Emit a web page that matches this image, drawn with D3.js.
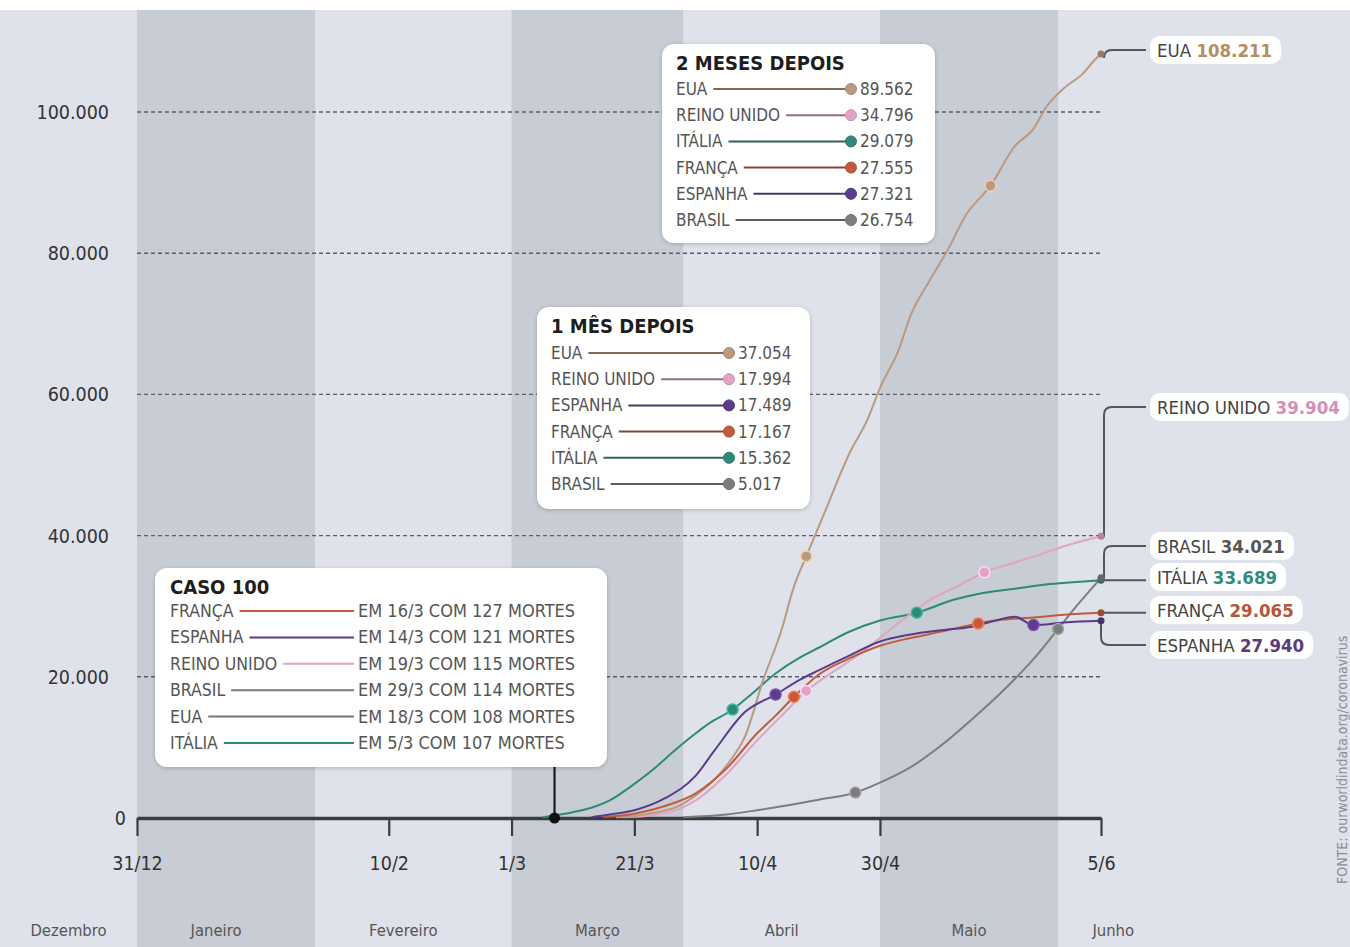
<!DOCTYPE html>
<html><head><meta charset="utf-8">
<script src="https://cdn.jsdelivr.net/npm/d3@7"></script>
<style>
body{margin:0;background:#fff;}
svg{display:block;}
text{font-family:"Liberation Sans Narrow","DejaVu Sans Condensed",Roboto,sans-serif;}
</style></head><body>
<svg id="c" width="1350" height="947"></svg>
<script>
// ---------- DATA ----------
const countries = ["EUA","REINO UNIDO","ITÁLIA","FRANÇA","ESPANHA","BRASIL"];

const seriesEUA = [["2020-03-18",108],["2020-03-21",300],["2020-03-24",700],["2020-03-28",1600],["2020-03-31",3200],["2020-04-03",5400],["2020-04-06",8600],["2020-04-08",11500],["2020-04-11",19600],["2020-04-14",26700],["2020-04-16",32800],["2020-04-18",37054],["2020-04-21",43300],["2020-04-25",51600],["2020-04-28",56500],["2020-04-30",60900],["2020-05-03",66200],["2020-05-05",71200],["2020-05-08",76000],["2020-05-11",80400],["2020-05-14",85400],["2020-05-18",89562],["2020-05-22",95200],["2020-05-25",97600],["2020-05-27",100600],["2020-05-30",103400],["2020-06-02",105400],["2020-06-04",107400],["2020-06-05",108211]];
const seriesReinoUnido = [["2020-03-19",115],["2020-03-23",300],["2020-03-27",900],["2020-03-31",2500],["2020-04-05",6200],["2020-04-10",11000],["2020-04-14",14500],["2020-04-18",17994],["2020-04-22",20500],["2020-04-26",22800],["2020-04-30",25500],["2020-05-04",28300],["2020-05-08",30800],["2020-05-13",33000],["2020-05-17",34796],["2020-05-22",36200],["2020-05-26",37300],["2020-05-30",38500],["2020-06-05",39904]];
const seriesItalia = [["2020-03-06",107],["2020-03-08",366],["2020-03-11",827],["2020-03-14",1441],["2020-03-17",2503],["2020-03-21",4825],["2020-03-24",6820],["2020-03-27",9134],["2020-03-31",12000],["2020-04-02",13300],["2020-04-06",15362],["2020-04-09",17500],["2020-04-13",20465],["2020-04-17",22745],["2020-04-20",24114],["2020-04-25",26384],["2020-04-30",27967],["2020-05-06",29079],["2020-05-12",30911],["2020-05-17",31908],["2020-05-22",32486],["2020-05-27",33072],["2020-06-01",33415],["2020-06-05",33689]];
const seriesFranca = [["2020-03-16",127],["2020-03-21",600],["2020-03-26",1700],["2020-03-31",3500],["2020-04-05",7000],["2020-04-10",12000],["2020-04-13",14500],["2020-04-16",17167],["2020-04-20",20300],["2020-04-25",22600],["2020-04-30",24400],["2020-05-05",25500],["2020-05-10",26400],["2020-05-16",27555],["2020-05-20",28100],["2020-05-25",28400],["2020-05-30",28800],["2020-06-05",29065]];
const seriesEspanha = [["2020-03-14",121],["2020-03-17",500],["2020-03-21",1100],["2020-03-26",2800],["2020-03-31",6000],["2020-04-03",9500],["2020-04-08",15000],["2020-04-13",17489],["2020-04-17",19600],["2020-04-20",20900],["2020-04-25",23000],["2020-04-30",25000],["2020-05-05",26000],["2020-05-10",26600],["2020-05-15",27100],["2020-05-19",28000],["2020-05-22",28500],["2020-05-25",27321],["2020-05-30",27700],["2020-06-05",27940]];
const seriesBrasil = [["2020-03-29",114],["2020-04-05",500],["2020-04-10",1100],["2020-04-15",1800],["2020-04-20",2600],["2020-04-26",3600],["2020-04-30",5000],["2020-05-05",7200],["2020-05-10",10300],["2020-05-15",14000],["2020-05-20",18000],["2020-05-25",22500],["2020-05-29",26754],["2020-06-01",30000],["2020-06-05",34021]];

const yTicks = [0,20000,40000,60000,80000,100000];
const xTickDates = ["2019-12-31","2020-02-10","2020-03-01","2020-03-21","2020-04-10","2020-04-30","2020-06-05"];
const monthNames = ["Dezembro","Janeiro","Fevereiro","Março","Abril","Maio","Junho"];
const monthStarts = ["2019-12-01","2019-12-31","2020-01-29","2020-03-01","2020-03-29","2020-04-30","2020-05-29"];
const monthEnds   = ["2019-12-31","2020-01-29","2020-03-01","2020-03-29","2020-04-30","2020-05-29","2020-06-16"];

const oneMonthLabels = ["EUA","REINO UNIDO","ESPANHA","FRANÇA","ITÁLIA","BRASIL"];
const oneMonthValues = [37054,17994,17489,17167,15362,5017];
const oneMonthDates  = ["2020-04-18","2020-04-18","2020-04-13","2020-04-16","2020-04-06","2020-04-26"];

const twoMonthLabels = ["EUA","REINO UNIDO","ITÁLIA","FRANÇA","ESPANHA","BRASIL"];
const twoMonthValues = [89562,34796,29079,27555,27321,26754];
const twoMonthDates  = ["2020-05-18","2020-05-17","2020-05-06","2020-05-16","2020-05-25","2020-05-29"];

const case100Labels = ["FRANÇA","ESPANHA","REINO UNIDO","BRASIL","EUA","ITÁLIA"];
const case100Dates  = ["16/3","14/3","19/3","29/3","18/3","5/3"];
const case100Deaths = [127,121,115,114,108,107];
const case100PinDate = "2020-03-08";

const sourceText = "FONTE: ourworldindata.org/coronavirus";

// ---------- STYLE ----------
const lineColor = {"EUA":"#b99a80","REINO UNIDO":"#e2a2c4","ITÁLIA":"#2e8a78","FRANÇA":"#c45a3c","ESPANHA":"#5a3c8a","BRASIL":"#7d7d7d"};
const valueColor = {"EUA":"#b58d62","REINO UNIDO":"#d390b7","ITÁLIA":"#338b7b","FRANÇA":"#b3573a","ESPANHA":"#5b3b7a","BRASIL":"#555555"};
const seriesByCountry = {"EUA":seriesEUA,"REINO UNIDO":seriesReinoUnido,"ITÁLIA":seriesItalia,"FRANÇA":seriesFranca,"ESPANHA":seriesEspanha,"BRASIL":seriesBrasil};
const endLabelY = {"EUA":50,"REINO UNIDO":407,"BRASIL":546,"ITÁLIA":577,"FRANÇA":610,"ESPANHA":645};
const LIGHT = "#dfe2ea", DARK = "#c8ccd4";

// ---------- CHART ----------
const parse = d3.utcParse("%Y-%m-%d");
const svg = d3.select("#c");
const W = 1350, H = 947;
const x = d3.scaleUtc().domain([parse("2019-12-31"), parse("2020-06-05")]).range([137,1101]);
const y = d3.scaleLinear().domain([0,100000]).range([818,112]);
const fmt = d3.formatLocale({decimal:",",thousands:".",grouping:[3],currency:["",""]}).format(",d");

const defs = svg.append("defs");
const f = defs.append("filter").attr("id","sh").attr("x","-10%").attr("y","-10%").attr("width","120%").attr("height","130%");
f.append("feDropShadow").attr("dx",0).attr("dy",1).attr("stdDeviation",2).attr("flood-color","#000").attr("flood-opacity",0.22);

svg.append("rect").attr("width",W).attr("height",H).attr("fill",LIGHT);
const bands = monthNames.map((m,i)=>({name:m, s:parse(monthStarts[i]), e:parse(monthEnds[i]), dark: i%2===1}));
svg.append("g").selectAll("rect").data(bands).join("rect")
  .attr("x",d=>Math.max(0,x(d.s))).attr("width",d=>x(d.e)-Math.max(0,x(d.s)))
  .attr("y",0).attr("height",H).attr("fill",d=>d.dark?DARK:LIGHT);
svg.append("rect").attr("width",W).attr("height",10).attr("fill","#fff");
svg.append("g").selectAll("text").data(bands).join("text")
  .attr("x",d=>(Math.max(0,x(d.s))+x(d.e))/2 - (d.name==="Janeiro"||d.name==="Fevereiro"?10:0)).attr("y",936)
  .attr("text-anchor","middle").attr("font-size",16.5).attr("fill","#555").text(d=>d.name);

// gridlines
svg.append("g").selectAll("line").data(yTicks.filter(v=>v>0)).join("line")
  .attr("x1",x.range()[0]).attr("x2",x.range()[1]).attr("y1",d=>y(d)).attr("y2",d=>y(d))
  .attr("stroke","#5a5d66").attr("stroke-width",1.4).attr("stroke-dasharray","4,3");
svg.append("g").selectAll("text").data(yTicks).join("text")
  .attr("x",d=>d===0?126:109).attr("y",d=>y(d)+7).attr("text-anchor","end")
  .attr("font-size",19.5).attr("fill","#333").text(d=>fmt(d));

// x axis
const xAxis = d3.axisBottom(x).tickValues(xTickDates.map(parse)).tickSizeInner(18).tickSizeOuter(0).tickPadding(20)
  .tickFormat(d=>`${d.getUTCDate()}/${d.getUTCMonth()+1}`);
const gx = svg.append("g").attr("transform",`translate(0,${y(0)})`).call(xAxis);
gx.select(".domain").attr("stroke","#3a3c42").attr("stroke-width",3.5);
gx.selectAll(".tick line").attr("stroke","#3a3c42").attr("stroke-width",2.2);
gx.selectAll(".tick text").attr("font-size",19.5).attr("fill","#333").attr("font-family",null);

// lines
const line = d3.line().x(d=>x(d.date)).y(d=>y(d.v)).curve(d3.curveMonotoneX);
const drawOrder = ["BRASIL","ITÁLIA","REINO UNIDO","EUA","FRANÇA","ESPANHA"];
const data = {};
countries.forEach(c=>{ data[c] = seriesByCountry[c].map(([d,v])=>({date:parse(d),v})); });
svg.append("g").selectAll("path").data(drawOrder).join("path")
  .attr("d",c=>line(data[c])).attr("fill","none").attr("stroke",c=>lineColor[c]).attr("stroke-width",2);

function valueAt(c, ds){ const p = data[c].find(d=>+d.date===+parse(ds)); return p?p.v:0; }

const markers = [];
oneMonthLabels.forEach((c,i)=>markers.push({c, date:parse(oneMonthDates[i]), v:valueAt(c,oneMonthDates[i])}));
twoMonthLabels.forEach((c,i)=>markers.push({c, date:parse(twoMonthDates[i]), v:valueAt(c,twoMonthDates[i])}));
svg.append("g").selectAll("circle").data(markers).join("circle")
  .attr("cx",d=>x(d.date)).attr("cy",d=>y(d.v)).attr("r",5.5)
  .attr("fill",d=>lineColor[d.c]).attr("stroke",d=>d3.color(lineColor[d.c]).brighter(0.8)).attr("stroke-width",1.5);

// end dots + leaders + labels
const ends = countries.map(c=>{const last = data[c][data[c].length-1]; return {c, x:x(last.date), y:y(last.v), v:last.v, ly:endLabelY[c]};});
const leader = d=>{
  const dy = d.ly - d.y;
  if (Math.abs(dy) < 4) return `M${d.x},${d.y}H1146`;
  const vx = d.c==="ESPANHA" ? d.x : d.x+3, r = 8*Math.sign(dy);
  return `M${d.x},${d.y}H${vx}V${d.ly - r}Q${vx},${d.ly} ${vx+8},${d.ly}H1146`;
};
svg.append("g").selectAll("path").data(ends).join("path").attr("d",leader)
  .attr("fill","none").attr("stroke","#55575e").attr("stroke-width",2);
svg.append("g").selectAll("circle").data(ends).join("circle")
  .attr("cx",d=>d.x).attr("cy",d=>d.y).attr("r",3.5).attr("fill",d=>d3.color(lineColor[d.c]).darker(0.6));

const lab = svg.append("g").selectAll("g").data(ends).join("g");
lab.each(function(d){
  const g = d3.select(this);
  const bg = g.append("rect").attr("fill","#fff").attr("rx",10);
  const t = g.append("text").attr("x",1157).attr("y",d.ly+6.5).attr("font-size",18.5);
  t.append("tspan").attr("fill","#444").text(d.c+" ");
  t.append("tspan").attr("fill",valueColor[d.c]).attr("font-weight","bold").text(fmt(d.v));
  const w = t.node().getComputedTextLength();
  bg.attr("x",1150).attr("y",d.ly-14).attr("width",w+16).attr("height",28);
});

// ---------- boxes ----------
function box(x0,y0,w,h){
  svg.append("rect").attr("x",x0).attr("y",y0).attr("width",w).attr("height",h).attr("rx",12)
    .attr("fill","#fff").attr("filter","url(#sh)");
}
function milestoneBox(x0,y0,w,h,title,labels,values,dotX,rowY0){
  box(x0,y0,w,h);
  const g = svg.append("g");
  g.append("text").attr("x",x0+14).attr("y",y0+26).attr("font-size",20).attr("font-weight","bold").attr("fill","#1e1e1e").text(title);
  labels.forEach((c,i)=>{
    const cy = rowY0 + i*26.2;
    const t = g.append("text").attr("x",x0+14).attr("y",cy+6).attr("font-size",17).attr("fill","#555").text(c);
    const tw = t.node().getComputedTextLength();
    g.append("line").attr("x1",x0+14+tw+6).attr("x2",dotX).attr("y1",cy).attr("y2",cy)
      .attr("stroke",d3.interpolateRgb(lineColor[c],"#333")(0.45)).attr("stroke-width",2);
    g.append("circle").attr("cx",dotX).attr("cy",cy).attr("r",5.5).attr("fill",lineColor[c])
      .attr("stroke",d3.color(lineColor[c]).darker(0.3)).attr("stroke-width",1);
    g.append("text").attr("x",dotX+9).attr("y",cy+6).attr("font-size",17).attr("fill","#555").text(fmt(values[i]));
  });
}
milestoneBox(662,44,273,199,"2 MESES DEPOIS",twoMonthLabels,twoMonthValues,851,89);
milestoneBox(537,307,273,202,"1 MÊS DEPOIS",oneMonthLabels,oneMonthValues,729,353);

// caso 100 box + pin
const pinX = x(parse(case100PinDate));
svg.append("line").attr("x1",pinX).attr("x2",pinX).attr("y1",767).attr("y2",y(0)).attr("stroke","#1a1a1a").attr("stroke-width",2.2);
svg.append("circle").attr("cx",pinX).attr("cy",y(0)).attr("r",5.5).attr("fill","#111");
box(155,568,452,199);
const gc = svg.append("g");
gc.append("text").attr("x",170).attr("y",594).attr("font-size",20).attr("font-weight","bold").attr("fill","#1e1e1e").text("CASO 100");
case100Labels.forEach((c,i)=>{
  const cy = 611 + i*26.4;
  const t = gc.append("text").attr("x",170).attr("y",cy+6).attr("font-size",17.5).attr("fill","#555").text(c);
  const tw = t.node().getComputedTextLength();
  gc.append("line").attr("x1",170+tw+6).attr("x2",354).attr("y1",cy).attr("y2",cy)
    .attr("stroke",c==="EUA"?"#777":lineColor[c]).attr("stroke-width",2);
  gc.append("text").attr("x",358).attr("y",cy+6).attr("font-size",18).attr("fill","#555")
    .text(`EM ${case100Dates[i]} COM ${case100Deaths[i]} MORTES`);
});

// source
svg.append("text").attr("transform","translate(1347,884) rotate(-90)").attr("font-size",14).attr("fill","#8a8d94").text(sourceText);
</script></body></html>
